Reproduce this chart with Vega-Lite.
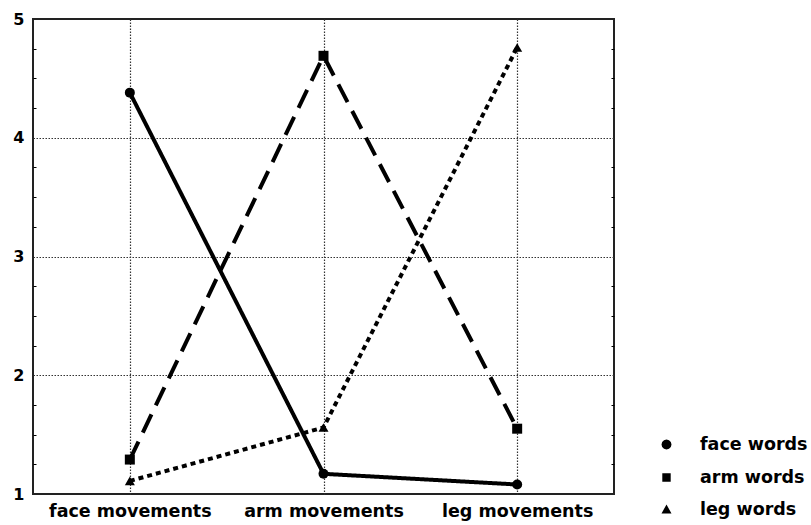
{
  "$schema": "https://vega.github.io/schema/vega-lite/v6.json",
  "width": 581,
  "height": 475,
  "autosize": "none",
  "padding": {"left": 33, "top": 19, "right": 197, "bottom": 31},
  "background": "white",
  "config": {
    "view": {"stroke": "#222", "strokeWidth": 2},
    "font": "DejaVu Sans"
  },
  "data": {
    "values": [
      {"movement": "face movements", "series": "face words", "value": 4.38},
      {"movement": "arm movements", "series": "face words", "value": 1.17},
      {"movement": "leg movements", "series": "face words", "value": 1.08},
      {"movement": "face movements", "series": "arm words", "value": 1.29},
      {"movement": "arm movements", "series": "arm words", "value": 4.69},
      {"movement": "leg movements", "series": "arm words", "value": 1.55},
      {"movement": "face movements", "series": "leg words", "value": 1.11},
      {"movement": "arm movements", "series": "leg words", "value": 1.56},
      {"movement": "leg movements", "series": "leg words", "value": 4.76}
    ]
  },
  "layer": [
    {
      "mark": {"type": "line", "color": "black", "strokeWidth": 4},
      "encoding": {
        "x": {
          "field": "movement", "type": "nominal",
          "sort": ["face movements", "arm movements", "leg movements"],
          "scale": {"type": "point", "padding": 0.5},
          "axis": {
            "title": null, "orient": "bottom", "domain": false, "ticks": false, "tickSize": 0,
            "grid": true, "gridDash": [1.5, 1.5], "gridColor": "#333", "gridWidth": 1.2,
            "labelFont": "DejaVu Sans", "labelFontWeight": "bold", "labelFontSize": 17.5,
            "labelColor": "black", "labelPadding": 8, "labelAngle": 0
          }
        },
        "y": {
          "field": "value", "type": "quantitative",
          "scale": {"domain": [1, 5], "nice": false, "zero": false},
          "axis": {
            "title": null, "orient": "left", "domain": false,
            "values": [1, 1.25, 1.5, 1.75, 2, 2.25, 2.5, 2.75, 3, 3.25, 3.5, 3.75, 4, 4.25, 4.5, 4.75, 5],
            "labelExpr": "datum.value % 1 === 0 ? format(datum.value, 'd') : ''",
            "tickSize": -3, "tickColor": "black", "tickWidth": 1,
            "tickOpacity": {"condition": {"test": "datum.value % 1 === 0", "value": 0}, "value": 1},
            "grid": true, "gridDash": [1.5, 1.5], "gridColor": "#333", "gridWidth": 1.2,
            "gridOpacity": {"condition": {"test": "datum.value % 1 === 0 && datum.value > 1 && datum.value < 5", "value": 1}, "value": 0},
            "labelFont": "DejaVu Sans", "labelFontWeight": "bold", "labelFontSize": 16,
            "labelColor": "black", "labelPadding": 12
          }
        },
        "detail": {"field": "series"},
        "strokeDash": {
          "field": "series", "type": "nominal",
          "scale": {"domain": ["face words", "arm words", "leg words"], "range": [[1, 0], [20, 10], [5, 4]]},
          "legend": null
        }
      }
    },
    {
      "mark": {"type": "point", "filled": true, "color": "black", "opacity": 1, "size": 100},
      "encoding": {
        "x": {"field": "movement", "type": "nominal", "sort": ["face movements", "arm movements", "leg movements"], "scale": {"type": "point", "padding": 0.5}},
        "y": {"field": "value", "type": "quantitative", "scale": {"domain": [1, 5], "nice": false, "zero": false}, "axis": null},
        "shape": {
          "field": "series", "type": "nominal",
          "scale": {"domain": ["face words", "arm words", "leg words"], "range": ["circle", "square", "triangle-up"]},
          "legend": null
        }
      }
    },
    {
      "mark": {"type": "point", "filled": true, "color": "black", "opacity": 0, "size": 0},
      "encoding": {
        "x": {"field": "movement", "type": "nominal", "sort": ["face movements", "arm movements", "leg movements"], "scale": {"type": "point", "padding": 0.5}},
        "y": {
          "field": "value", "type": "quantitative",
          "scale": {"domain": [1, 5], "nice": false, "zero": false},
          "axis": {
            "title": null, "orient": "right", "domain": false, "labels": false,
            "values": [1, 1.25, 1.5, 1.75, 2, 2.25, 2.5, 2.75, 3, 3.25, 3.5, 3.75, 4, 4.25, 4.5, 4.75, 5],
            "tickSize": -3, "tickColor": "black", "tickWidth": 1,
            "tickOpacity": {"condition": {"test": "datum.value % 1 === 0", "value": 0}, "value": 1},
            "grid": false
          }
        },
        "shape": {
          "field": "series", "type": "nominal",
          "scale": {
            "domain": ["face words", "arm words", "leg words"],
            "range": [
              "M-2.1,0L2.1,0M0.5,0L0.433,0.25L0.25,0.433L0,0.5L-0.25,0.433L-0.433,0.25L-0.5,0L-0.433,-0.25L-0.25,-0.433L0,-0.5L0.25,-0.433L0.433,-0.25Z",
              "M-2.1,0L-1.3,0M1.3,0L2.1,0M-0.42,-0.42L0.42,-0.42L0.42,0.42L-0.42,0.42Z",
              "M-2.1,0L-1.75,0M-1.35,0L-1,0M1,0L1.35,0M1.75,0L2.1,0M0,-0.5L0.5,0.4L-0.5,0.4Z"
            ]
          },
          "legend": {
            "title": null,
            "orient": "none",
            "legendX": 622,
            "legendY": 414,
            "padding": 0,
            "symbolSize": 400,
            "symbolOpacity": 1,
            "symbolFillColor": "black",
            "symbolStrokeColor": "black",
            "symbolStrokeWidth": 3,
            "labelOffset": 22,
            "rowPadding": 10,
            "labelFont": "DejaVu Sans", "labelFontWeight": "bold", "labelFontSize": 17.5,
            "labelColor": "black",
            "labelLimit": 300,
            "encode": {
              "symbols": {
                "update": {
                  "stroke": {"value": "black"},
                  "strokeWidth": {"value": 3},
                  "strokeOpacity": {"value": 1},
                  "fill": {"value": "black"},
                  "opacity": {"value": 1}
                }
              }
            }
          }
        }
      }
    }
  ],
  "resolve": {
    "scale": {"y": "independent", "shape": "independent"},
    "axis": {"y": "independent"},
    "legend": {"shape": "independent"}
  }
}
